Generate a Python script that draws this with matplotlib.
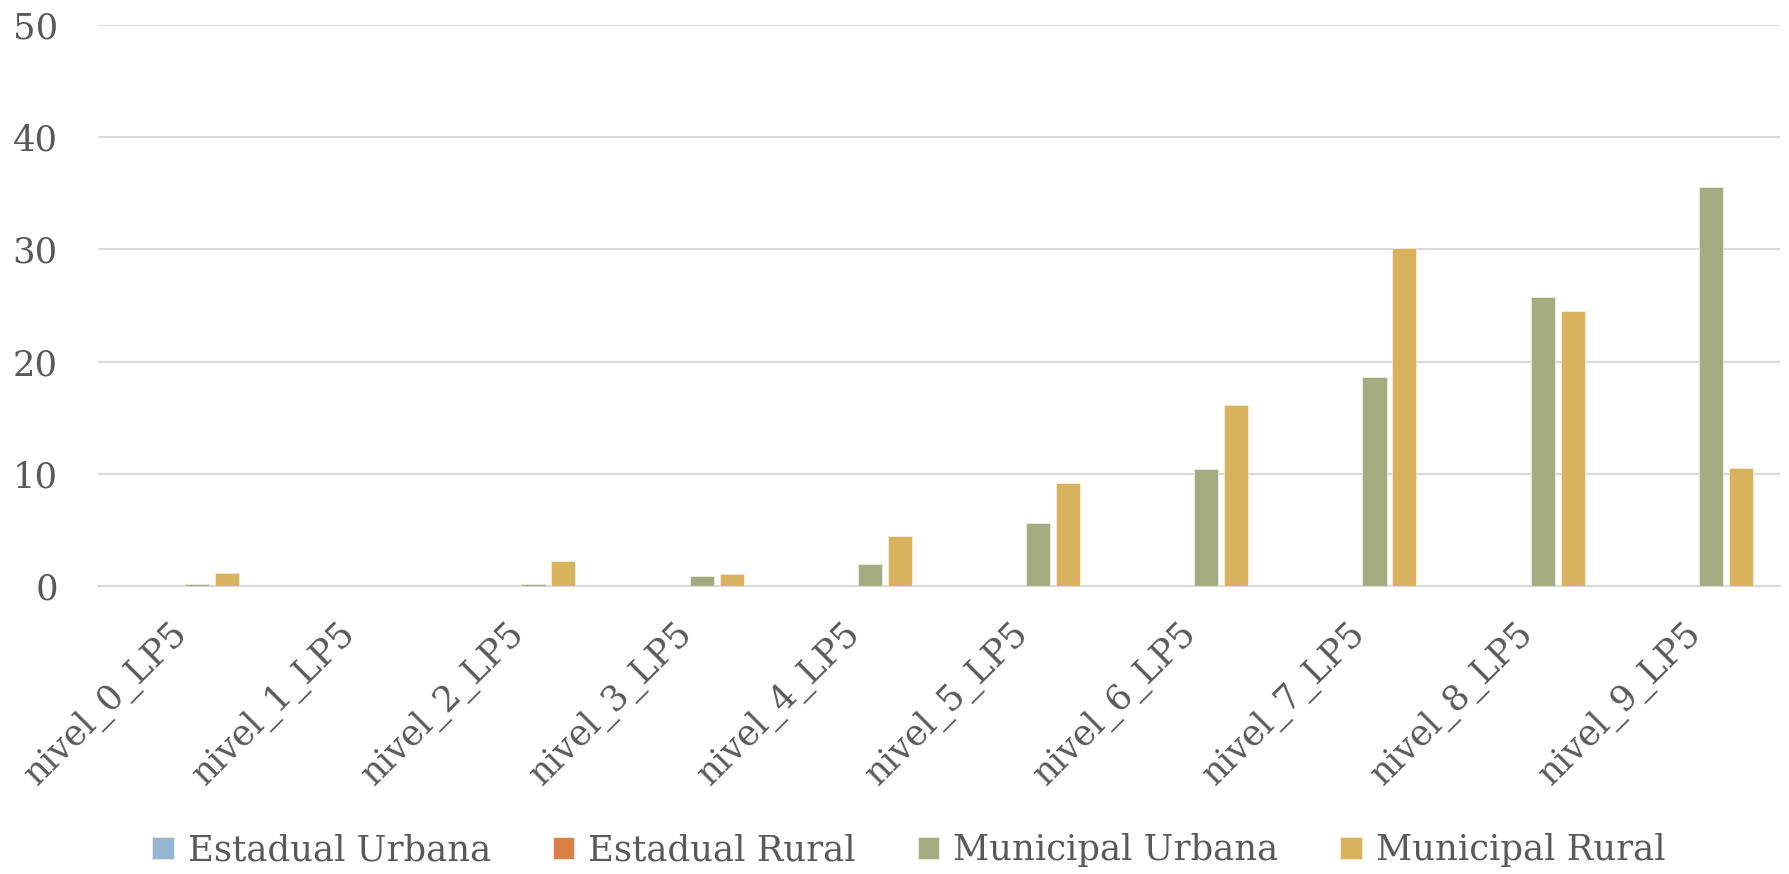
import matplotlib
matplotlib.use("Agg")
import matplotlib.pyplot as plt
import numpy as np

categories = ["nivel_0_LP5", "nivel_1_LP5", "nivel_2_LP5", "nivel_3_LP5", "nivel_4_LP5",
              "nivel_5_LP5", "nivel_6_LP5", "nivel_7_LP5", "nivel_8_LP5", "nivel_9_LP5"]
series_names = ["Estadual Urbana", "Estadual Rural", "Municipal Urbana", "Municipal Rural"]
estadual_urbana = [0, 0, 0, 0, 0, 0, 0, 0, 0, 0]
estadual_rural = [0, 0, 0, 0, 0, 0, 0, 0, 0, 0]
municipal_urbana = [0.15, 0.02, 0.15, 0.9, 2.0, 5.6, 10.4, 18.65, 25.75, 35.6]
municipal_rural = [1.12, 0.0, 2.26, 1.07, 4.48, 9.14, 16.12, 30.15, 24.5, 10.5]
colors = ["#94b6d2", "#dd8047", "#a5ab81", "#d8b25c"]
yticks = [0, 10, 20, 30, 40, 50]

plt.rcParams['font.family'] = ['DejaVu Serif']
text_color = "#595959"
fs = 25.5

fig = plt.figure(figsize=(17.89, 8.74), dpi=100)
ax = fig.add_axes([0.0548, 0.3295, 0.9402, 0.6419])

x = np.arange(len(categories))
slot = 0.178
width = 0.143
all_series = [estadual_urbana, estadual_rural, municipal_urbana, municipal_rural]
for i, (name, vals, c) in enumerate(zip(series_names, all_series, colors)):
    ax.bar(x + (i - 1.5) * slot, vals, width=width, color=c, label=name,
           edgecolor="#f2ecd9", linewidth=0.6, zorder=3)

ax.set_xlim(-0.5, len(categories) - 0.5)
ax.set_ylim(0, 50)
ax.set_yticks(yticks)
ax.set_yticklabels([str(t) for t in yticks])
ax.grid(axis='y', color="#d9d9d9", linewidth=1.5, zorder=0)
for s in ["top", "right", "left"]:
    ax.spines[s].set_visible(False)
ax.spines["bottom"].set_color("#d9d9d9")
ax.spines["bottom"].set_linewidth(1.5)
ax.tick_params(axis='both', length=0, colors=text_color, labelsize=fs)
ax.tick_params(axis='y', pad=29)
ax.set_xticks(x)
ax.set_xticklabels(categories, rotation=45, ha='right', rotation_mode='anchor',
                   va='center', color=text_color, fontsize=fs)
ax.tick_params(axis='x', pad=30)
for lbl in ax.get_yticklabels():
    lbl.set_color(text_color)

leg = fig.legend(loc='center', bbox_to_anchor=(0.508, 0.027), ncol=4, frameon=False,
                 fontsize=fs, handlelength=0.6, handleheight=0.6, handletextpad=0.4,
                 columnspacing=1.75)
for t in leg.get_texts():
    t.set_color(text_color)

fig.savefig("out.png", dpi=100)
